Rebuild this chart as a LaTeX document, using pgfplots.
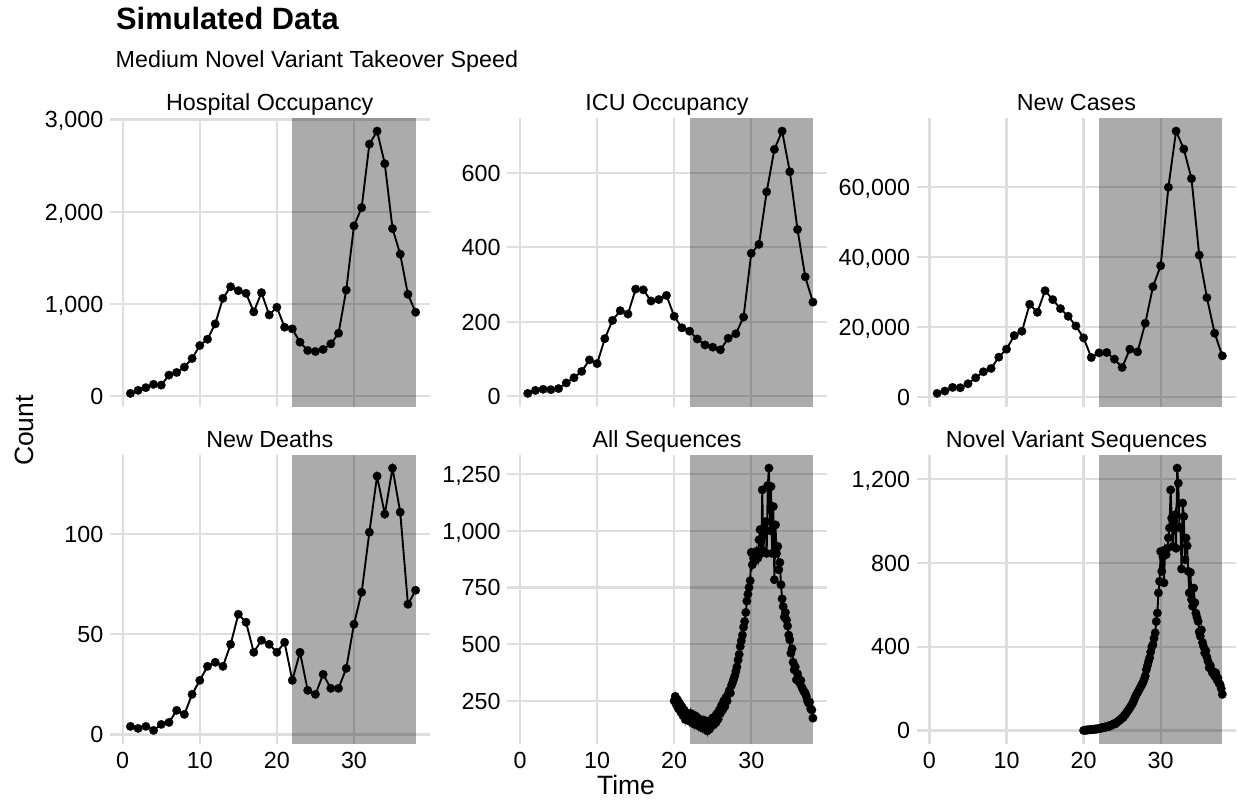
\documentclass[border=0pt]{standalone}
\usepackage{fontspec}
\setmainfont{Liberation Sans}
\usepackage{pgfplots}
\pgfplotsset{compat=1.18}

\definecolor{gridgray}{RGB}{222,222,222}
\newcommand{\ticksize}{\fontsize{23.3}{28}\selectfont}
\newcommand{\axtitlesize}{\fontsize{26.5}{31}\selectfont}
\newcommand{\titlesize}{\fontsize{30.8}{36}\selectfont}

\pgfplotsset{
  panel/.style={
    scale only axis, width=319.5pt, height=288.5pt, anchor=north west,
    xmin=-1.65, xmax=39.8, enlargelimits=false,
    axis line style={draw=none}, tick style={draw=none},
    grid=major, major grid style={line width=2.2pt, gridgray},
    xtick={0,10,20,30}, clip mode=individual,
    scaled y ticks=false,
    /pgf/number format/fixed,
    /pgf/number format/1000 sep={,},
    /pgf/number format/assume math mode=true,
    tick label style={font=\ticksize},
    yticklabel style={anchor=base east, inner sep=0pt, xshift=-6.5pt, yshift=-8.3pt},
    xticklabel style={anchor=north, inner sep=0pt, yshift=-8.5pt},
    title style={at={(0.5,1)}, anchor=base, yshift=2pt, inner sep=0pt, font=\ticksize},
  },
  toprow/.style={xticklabels={}},
  series/.style={black, line width=1.9pt, mark=*, mark size=4.3pt,
    mark options={solid, fill=black, draw=black, line width=0.2pt}},
  window/.style={fill=black, fill opacity=0.33, draw=none, forget plot},
}

\begin{document}
\begin{tikzpicture}
\useasboundingbox (0,0) rectangle (1238pt,-809pt);

\node[anchor=base west, inner sep=0pt, font=\titlesize\bfseries] at (116pt,-29pt) {Simulated Data};
\node[anchor=base west, inner sep=0pt, font=\ticksize] at (115.5pt,-67pt) {Medium Novel Variant Takeover Speed};

% Hospital occupancy
\begin{axis}[panel, toprow, at={(110pt,-118pt)}, title={Hospital Occupancy},
  ymin=-110.1, ymax=3016.1, ytick={0,1000,2000,3000}]
\addplot[window] coordinates {(22,-110.1) (38,-110.1) (38,3016.1) (22,3016.1)} -- cycle;
\addplot[series] coordinates {
(1,32) (2,65) (3,94) (4,130) (5,122) (6,230) (7,259) (8,317) (9,410) (10,551)
(11,619) (12,785) (13,1062) (14,1188) (15,1145) (16,1116) (17,915) (18,1124) (19,882) (20,965)
(21,749) (22,731) (23,587) (24,497) (25,486) (26,508) (27,569) (28,684) (29,1152) (30,1847)
(31,2045) (32,2733) (33,2874) (34,2521) (35,1818) (36,1541) (37,1106) (38,911)};
\end{axis}

% ICU occupancy
\begin{axis}[panel, toprow, at={(507.3pt,-118pt)}, title={ICU Occupancy},
  ymin=-27.2, ymax=747.2, ytick={0,200,400,600}]
\addplot[window] coordinates {(22,-27.2) (38,-27.2) (38,747.2) (22,747.2)} -- cycle;
\addplot[series] coordinates {
(1,8) (2,16) (3,19) (4,18) (5,21) (6,36) (7,50) (8,67) (9,98) (10,88)
(11,155) (12,204) (13,230) (14,221) (15,288) (16,286) (17,256) (18,260) (19,271) (20,215)
(21,184) (22,175) (23,154) (24,138) (25,132) (26,125) (27,156) (28,168) (29,213) (30,384)
(31,408) (32,549) (33,663) (34,712) (35,603) (36,448) (37,321) (38,253)};
\end{axis}

% New cases
\begin{axis}[panel, toprow, at={(916.7pt,-118pt)}, title={New Cases},
  ymin=-2701, ymax=79697, ytick={0,20000,40000,60000}]
\addplot[window] coordinates {(22,-2701) (38,-2701) (38,79697) (22,79697)} -- cycle;
\addplot[series] coordinates {
(1,1044) (2,1709) (3,2753) (4,2658) (5,3798) (6,5507) (7,7215) (8,8165) (9,11393) (10,13671)
(11,17564) (12,18798) (13,26488) (14,24209) (15,30381) (16,27817) (17,25254) (18,23070) (19,20317) (20,16899)
(21,11298) (22,12627) (23,12722) (24,10823) (25,8450) (26,13671) (27,12912) (28,21077) (29,31520) (30,37501)
(31,59907) (32,75952) (33,70825) (34,62375) (35,40539) (36,28387) (37,18229) (38,11772)};
\end{axis}

% New deaths
\begin{axis}[panel, at={(110pt,-455pt)}, title={New Deaths},
  ymin=-4.55, ymax=139.55, ytick={0,50,100}]
\addplot[window] coordinates {(22,-4.55) (38,-4.55) (38,139.55) (22,139.55)} -- cycle;
\addplot[series] coordinates {
(1,4) (2,3) (3,4) (4,2) (5,5) (6,6) (7,12) (8,10) (9,20) (10,27)
(11,34) (12,36) (13,34) (14,45) (15,60) (16,56) (17,41) (18,47) (19,45) (20,41)
(21,46) (22,27) (23,41) (24,22) (25,20) (26,30) (27,23) (28,23) (29,33) (30,55)
(31,71) (32,101) (33,129) (34,110) (35,133) (36,111) (37,65) (38,72)};
\end{axis}

% All sequences (daily)
\begin{axis}[panel, at={(507.3pt,-455pt)}, title={All Sequences},
  ymin=62.2, ymax=1333.8, ytick={250,500,750,1000,1250}]
\addplot[window] coordinates {(22,62.2) (38,62.2) (38,1333.8) (22,1333.8)} -- cycle;
\addplot[series] coordinates {
(20.00,250) (20.14,270) (20.29,232) (20.43,255) (20.57,215) (20.71,240) (20.86,200)
(21.00,225) (21.14,185) (21.29,210) (21.43,168) (21.57,198) (21.71,175) (21.86,190)
(22.00,160) (22.14,195) (22.29,165) (22.43,180) (22.57,148) (22.71,185) (22.86,155)
(23.00,175) (23.14,140) (23.29,170) (23.43,135) (23.57,160) (23.71,130) (23.86,165)
(24.00,140) (24.14,155) (24.29,118) (24.43,150) (24.57,125) (24.71,165) (24.86,140)
(25.00,175) (25.14,145) (25.29,180) (25.43,155) (25.57,195) (25.71,170) (25.86,210)
(26.00,195) (26.14,230) (26.29,210) (26.43,250) (26.57,225) (26.71,265) (26.86,250)
(27.00,280) (27.14,295) (27.29,285) (27.43,318) (27.57,330) (27.71,345) (27.86,360)
(28.00,380) (28.14,400) (28.29,430) (28.43,455) (28.57,490) (28.71,515) (28.86,540)
(29.00,575) (29.14,600) (29.29,640) (29.43,690) (29.57,720) (29.71,750) (29.86,780)
(30.00,905) (30.14,850) (30.29,880) (30.43,900) (30.57,870) (30.71,910) (30.86,880)
(31.00,960) (31.14,1005) (31.29,900) (31.43,1180) (31.57,910) (31.71,1000) (31.86,1040)
(32.00,900) (32.14,1200) (32.29,1276) (32.43,1000) (32.57,1195) (32.71,900) (32.86,1107)
(33.00,784) (33.14,1026) (33.29,900) (33.43,931) (33.57,828) (33.71,860) (33.86,762)
(34.00,700) (34.14,666) (34.29,620) (34.43,640) (34.57,607) (34.71,580) (34.86,540)
(35.00,519) (35.14,460) (35.29,480) (35.43,420) (35.57,387) (35.71,400) (35.86,343)
(36.00,370) (36.14,350) (36.29,330) (36.43,340) (36.57,310) (36.71,300) (36.86,290)
(37.00,284) (37.14,270) (37.29,250) (37.43,240) (37.57,245) (37.71,215) (37.86,210)
(38.00,174)};
\end{axis}

% Novel variant sequences (daily)
\begin{axis}[panel, at={(916.7pt,-455pt)}, title={Novel Variant Sequences},
  ymin=-62.65, ymax=1315.65, ytick={0,400,800,1200}]
\addplot[window] coordinates {(22,-62.65) (38,-62.65) (38,1315.65) (22,1315.65)} -- cycle;
\addplot[series] coordinates {
(20.00,0) (20.14,1) (20.29,1) (20.43,2) (20.57,2) (20.71,3) (20.86,3)
(21.00,4) (21.14,5) (21.29,4) (21.43,6) (21.57,7) (21.71,6) (21.86,8)
(22.00,9) (22.14,11) (22.29,10) (22.43,14) (22.57,13) (22.71,16) (22.86,15)
(23.00,19) (23.14,18) (23.29,22) (23.43,20) (23.57,25) (23.71,27) (23.86,30)
(24.00,33) (24.14,31) (24.29,38) (24.43,42) (24.57,45) (24.71,50) (24.86,55)
(25.00,60) (25.14,62) (25.29,72) (25.43,76) (25.57,85) (25.71,92) (25.86,100)
(26.00,108) (26.14,116) (26.29,125) (26.43,135) (26.57,148) (26.71,160) (26.86,172)
(27.00,180) (27.14,190) (27.29,200) (27.43,210) (27.57,220) (27.71,230) (27.86,245)
(28.00,260) (28.14,290) (28.29,310) (28.43,330) (28.57,347) (28.71,375) (28.86,400)
(29.00,410) (29.14,440) (29.29,466) (29.43,520) (29.57,561) (29.71,657) (29.86,712)
(30.00,855) (30.14,760) (30.29,830) (30.43,705) (30.57,863) (30.71,840) (30.86,870)
(31.00,920) (31.14,967) (31.29,1149) (31.43,1014) (31.57,879) (31.71,1000) (31.86,1030)
(32.00,870) (32.14,1253) (32.29,1181) (32.43,970) (32.57,967) (32.71,771) (32.86,1086)
(33.00,1022) (33.14,815) (33.29,919) (33.43,882) (33.57,760) (33.71,657) (33.86,755)
(34.00,625) (34.14,593) (34.29,680) (34.43,610) (34.57,560) (34.71,540) (34.86,521)
(35.00,470) (35.14,450) (35.29,480) (35.43,420) (35.57,400) (35.71,370) (35.86,380)
(36.00,350) (36.14,330) (36.29,300) (36.43,310) (36.57,290) (36.71,275) (36.86,280)
(37.00,260) (37.14,275) (37.29,243) (37.43,250) (37.57,225) (37.71,219) (37.86,200)
(38.00,172)};
\end{axis}

\node[anchor=base, inner sep=0pt, font=\axtitlesize] at (626pt,-794pt) {Time};
\node[anchor=base, rotate=90, inner sep=0pt, font=\axtitlesize] at (33pt,-430.5pt) {Count};
\end{tikzpicture}
\end{document}
